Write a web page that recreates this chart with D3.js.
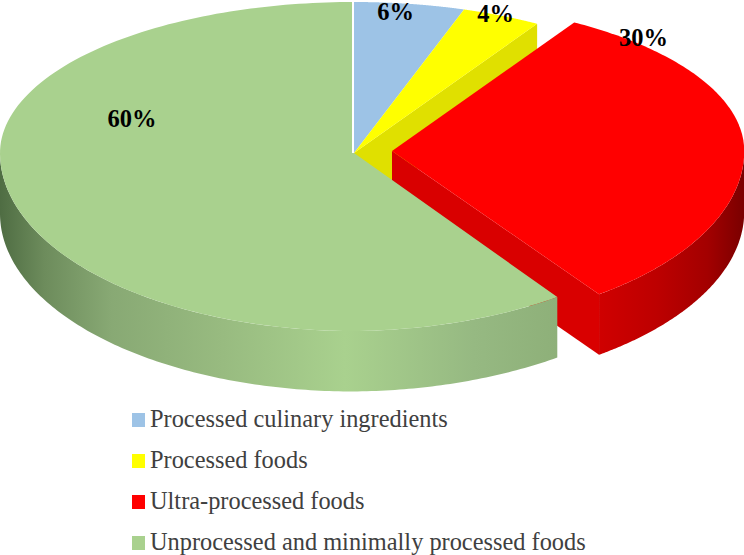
<!DOCTYPE html>
<html>
<head>
<meta charset="utf-8">
<script src="https://cdnjs.cloudflare.com/ajax/libs/d3/7.8.5/d3.min.js"></script>
<style>
  html, body { margin: 0; padding: 0; background: #fff; }
  svg { display: block; }
</style>
</head>
<body>
<svg id="chart" width="744" height="555"></svg>
<script>
const categories = [
  "Processed culinary ingredients",
  "Processed foods",
  "Ultra-processed foods",
  "Unprocessed and minimally processed foods",
];
const values = [6, 4, 30, 60];
const colors = ["#9dc3e6", "#ffff00", "#ff0000", "#a9d18e"];

const width = 744;
const height = 555;
const cx = 354;
const cy = 153;
const radiusX = 354;
const radiusFar = 151; // far half of the disc is squashed
const radiusNear = 178; // near half is stretched
const squashFar = (5.1 * Math.PI) / 180;
const squashNear = (1 * Math.PI) / 180; // green slice only
const depth = 60.5;
const redShift = [38, -2];
const redScale = 0.995;
const greenLean = 3.5; // near right of the green slice sits a bit higher

const svg = d3.select("#chart");
const defs = svg.append("defs");

const addGradient = (id, x1, x2, stops) => {
  const g = defs
    .append("linearGradient")
    .attr("id", id)
    .attr("gradientUnits", "userSpaceOnUse")
    .attr("x1", x1)
    .attr("x2", x2)
    .attr("y1", 0)
    .attr("y2", 0);
  stops.forEach((s) => {
    g.append("stop").attr("offset", s[0]).attr("stop-color", s[1]);
  });
};

addGradient("greenSide", 0, 557, [
  [0, "#4f6d43"],
  [0.08, "#6d8c5c"],
  [0.2, "#88a974"],
  [0.4, "#98bb80"],
  [0.62, "#a9d18e"],
  [0.85, "#96b982"],
  [1, "#8eb079"],
]);
addGradient("redSide", 598, 744, [
  [0, "#d00000"],
  [0.4, "#bd0000"],
  [0.75, "#a30000"],
  [1, "#7a0000"],
]);

const slices = d3.pie().sort(null).value((d) => d)(values);

// fake perspective: the two halves of the disc get their own height
const project = (angle, scale, lean) => {
  const near = lean > 0 ? squashNear : 0;
  const squash = Math.cos(angle) > 0 ? squashFar : near;
  const a = angle - squash * Math.sin(2 * angle);
  const c = Math.cos(a);
  const s = Math.sin(a);
  const ry = c > 0 ? radiusFar : radiusNear - lean * Math.max(s, 0);
  return [radiusX * scale * s, -ry * scale * c];
};

const line = d3.line();

const arcPoints = (a0, a1, dx, dy, scale, lean) => {
  return d3.range(0, 161).map((i) => {
    const p = project(a0 + ((a1 - a0) * i) / 160, scale, lean);
    return [cx + dx + p[0], cy + dy + p[1]];
  });
};

const topFace = (slice, dx, dy, scale, lean) => {
  const pts = arcPoints(slice.startAngle, slice.endAngle, dx, dy, scale, lean);
  return line([[cx + dx, cy + dy], ...pts]) + "Z";
};

const outerSide = (a0, a1, dx, dy, scale, lean) => {
  const top = arcPoints(a0, a1, dx, dy, scale, lean);
  const bottom = top.map((p) => [p[0], p[1] + depth]).reverse();
  return line([...top, ...bottom]) + "Z";
};

const cutSide = (angle, dx, dy, scale) => {
  const p = project(angle, scale, 0);
  const a = [cx + dx, cy + dy];
  const b = [cx + dx + p[0], cy + dy + p[1]];
  return line([a, b, [b[0], b[1] + depth], [a[0], a[1] + depth]]) + "Z";
};

const [blue, yellow, red, green] = slices;
const faces = svg.append("g");

// back to front
faces.append("path").attr("d", cutSide(yellow.endAngle, 0, 0, 1)).attr("fill", "#e0e000");
faces.append("path").attr("d", topFace(blue, 0, 0, 1, 0)).attr("fill", colors[0]);
faces.append("path").attr("d", topFace(yellow, 0, 0, 1, 0)).attr("fill", colors[1]);

faces
  .append("path")
  .attr("d", cutSide(red.endAngle, redShift[0], redShift[1], redScale))
  .attr("fill", "#d90000");
faces
  .append("path")
  .attr("d", outerSide(Math.PI / 2, red.endAngle, redShift[0], redShift[1], redScale, 0))
  .attr("fill", "url(#redSide)");
faces
  .append("path")
  .attr("d", topFace(red, redShift[0], redShift[1], redScale, 0))
  .attr("fill", colors[2]);

faces
  .append("path")
  .attr("d", outerSide(green.startAngle, Math.PI * 1.5, 0, 0, 1, greenLean))
  .attr("fill", "url(#greenSide)");
faces.append("path").attr("d", topFace(green, 0, 0, 1, greenLean)).attr("fill", colors[3]);

// white seam where the green slice meets the blue one
faces
  .append("line")
  .attr("x1", cx - 1)
  .attr("x2", cx - 1)
  .attr("y1", 0)
  .attr("y2", cy)
  .attr("stroke", "#fff")
  .attr("stroke-width", 2);

// percent labels
const labelX = [395.5, 495.5, 643.5, 132];
const labelY = [20, 22, 46, 127];
svg
  .append("g")
  .selectAll("text")
  .data(values)
  .enter()
  .append("text")
  .attr("x", (d, i) => labelX[i])
  .attr("y", (d, i) => labelY[i])
  .attr("text-anchor", "middle")
  .attr("font-family", "Liberation Serif")
  .attr("font-weight", "bold")
  .attr("font-size", 24.5)
  .attr("fill", "#000")
  .text((d) => d + "%");

// legend
const legendY = d3.scalePoint().domain(categories).range([427, 550]);
const legend = svg
  .append("g")
  .selectAll("g")
  .data(categories)
  .enter()
  .append("g")
  .attr("transform", (d) => "translate(0," + legendY(d) + ")");

legend
  .append("rect")
  .attr("x", 132)
  .attr("y", -14)
  .attr("width", 13)
  .attr("height", 14)
  .attr("fill", (d, i) => colors[i]);

legend
  .append("text")
  .attr("x", 150)
  .attr("font-family", "Liberation Serif")
  .attr("font-size", 24.36)
  .attr("fill", "#404040")
  .text((d) => d);
</script>
</body>
</html>
